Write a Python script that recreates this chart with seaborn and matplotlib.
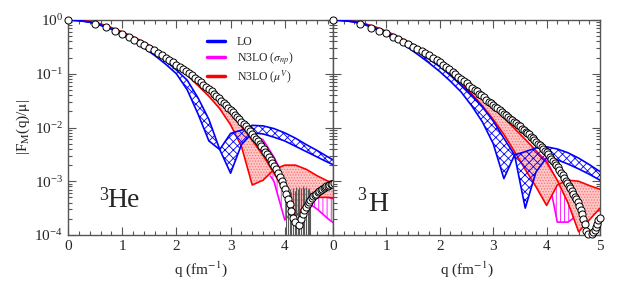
import numpy as np
import matplotlib
matplotlib.use("Agg")
import matplotlib.pyplot as plt
import seaborn as sns
from matplotlib.lines import Line2D
from matplotlib.ticker import MultipleLocator, LogLocator, NullFormatter, FixedLocator

nan = np.nan

# ---------------- data (log10 |F_M(q)/mu|) ----------------
q_exp = [0.00, 0.50, 0.71, 0.87, 1.00, 1.12, 1.22, 1.32, 1.41, 1.50,
         1.58, 1.66, 1.73, 1.80, 1.87, 1.94, 2.00, 2.06, 2.12, 2.18,
         2.24, 2.29, 2.35, 2.40, 2.45, 2.50, 2.55, 2.60, 2.65, 2.69,
         2.74, 2.78, 2.83, 2.87, 2.92, 2.96, 3.00, 3.04, 3.08, 3.12,
         3.16, 3.20, 3.24, 3.28, 3.32, 3.35, 3.39, 3.43, 3.46, 3.50,
         3.54, 3.57, 3.61, 3.64, 3.67, 3.71, 3.74, 3.77, 3.81, 3.84,
         3.87, 3.91, 3.94, 3.97, 4.00, 4.03, 4.06, 4.09, 4.12, 4.15,
         4.18, 4.21, 4.24, 4.27, 4.30, 4.33, 4.36, 4.39, 4.42, 4.44,
         4.47, 4.50, 4.53, 4.55, 4.58, 4.61, 4.64, 4.66, 4.69, 4.72,
         4.74, 4.77, 4.80, 4.82, 4.85, 4.87, 4.90, 4.92, 4.95, 4.97, 5.00]

he_exp = [0, -0.07, -0.13, -0.2, -0.26, -0.32, -0.37, -0.42, -0.47, -0.52,
          -0.56, -0.61, -0.65, -0.70, -0.74, -0.79, -0.83, -0.87, -0.91, -0.95,
          -0.99, -1.03, -1.08, -1.12, -1.16, -1.2, -1.24, -1.28, -1.33, -1.37,
          -1.41, -1.45, -1.5, -1.54, -1.59, -1.63, -1.67, -1.71, -1.76, -1.80,
          -1.85, -1.89, -1.94, -1.98, -2.03, -2.07, -2.12, -2.17, -2.21, -2.26,
          -2.31, -2.35, -2.40, -2.45, -2.50, -2.55, -2.61, -2.66, -2.72, -2.78,
          -2.85, -2.92, -2.99, -3.07, -3.15, -3.24, -3.33, -3.43, -3.55, -3.68,
          -3.75, nan, nan, -3.82, -3.70, -3.60, -3.53, -3.47, -3.42, -3.38,
          -3.34, -3.31, -3.28, -3.25, -3.23, -3.20, -3.18, -3.16, -3.14, -3.12,
          -3.11, -3.09, -3.08, -3.07, -3.06, -3.05, -3.04, nan, nan, nan, nan]

h_exp = [0, -0.07, -0.14, -0.2, -0.25, -0.31, -0.36, -0.41, -0.45, -0.5,
         -0.54, -0.58, -0.62, -0.66, -0.70, -0.74, -0.78, -0.83, -0.88, -0.92,
         -0.97, -1.01, -1.06, -1.10, -1.14, -1.18, -1.22, -1.26, -1.30, -1.33,
         -1.37, -1.40, -1.44, -1.48, -1.52, -1.55, -1.58, -1.61, -1.64, -1.68,
         -1.71, -1.74, -1.77, -1.80, -1.84, -1.86, -1.89, -1.92, -1.95, -1.98,
         -2.02, -2.04, -2.08, -2.11, -2.13, -2.17, -2.20, -2.23, -2.27, -2.30,
         -2.33, -2.37, -2.40, -2.43, -2.46, -2.50, -2.54, -2.58, -2.62, -2.66,
         -2.70, -2.74, -2.79, -2.84, -2.89, -2.94, -2.99, -3.04, -3.09, -3.13,
         -3.18, -3.23, -3.29, -3.33, -3.39, -3.46, -3.54, -3.61, -3.70, -3.80,
         -3.92, -3.98, nan, nan, -3.99, -3.95, -3.90, -3.85, -3.79, -3.73, -3.68]

# error bars of 3He data near the diffraction minimum (top of bar, log10)
he_err_q = [4.03, 4.06, 4.09, 4.12, 4.15, 4.18, 4.21, 4.24, 4.27, 4.30,
            4.33, 4.36, 4.39, 4.42, 4.44, 4.47]
he_err_top = [-3.15, -3.12, -3.15, -3.20, -3.12, -3.18, -3.10, -3.15, -3.10, -3.12,
              -3.08, -3.12, -3.10, -3.15, -3.12, -3.20]

q_band = [0.0, 0.2, 0.4, 0.6, 0.8, 1.0, 1.2, 1.4, 1.6, 1.8, 2.0, 2.2, 2.4,
          2.6, 2.8, 3.0, 3.2, 3.4, 3.6, 3.8, 4.0, 4.2, 4.4, 4.6, 4.8, 5.0]
q_mag = [3.2, 3.4, 3.6, 3.8, 4.0, 4.2, 4.4, 4.6, 4.8, 5.0]

# 3He
he_lo_up = [0, -0.01, -0.04, -0.09, -0.16, -0.25, -0.36, -0.48, -0.61, -0.76, -0.93, -1.12, -1.45,
            -1.85, -2.41, -2.11, -2.05, -1.96, -1.97, -2.02, -2.10, -2.20, -2.32, -2.43, -2.55, -2.67]
he_lo_dn = [0, -0.01, -0.04, -0.10, -0.17, -0.27, -0.39, -0.52, -0.66, -0.82, -1.00, -1.30, -1.75,
            -2.25, -2.41, -2.85, -2.32, -2.10, -2.12, -2.18, -2.25, -2.35, -2.45, -2.55, -2.65, -2.74]
he_mu_a = [0, -0.01, -0.03, -0.07, -0.14, -0.22, -0.31, -0.41, -0.53, -0.66, -0.80, -0.96, -1.13,
           -1.32, -1.52, -1.74, -1.98, -2.24, -2.52, -2.85, -3.20, -3.66, -3.40, -3.30, -3.30, -3.32]
he_mu_b = [0, -0.01, -0.03, -0.08, -0.15, -0.23, -0.33, -0.44, -0.56, -0.70, -0.86, -1.03, -1.22,
           -1.42, -1.65, -1.95, -2.35, -3.07, -2.98, -2.78, -2.70, -2.70, -2.78, -2.90, -3.00, -3.02]
he_np_up = [-1.95, -2.12, -2.23, -2.55, -2.95, -3.10, -3.20, -3.25, -3.30, -3.35]
he_np_dn = [-2.30, -2.50, -2.70, -3.00, -3.72, -3.50, -3.38, -3.52, -3.70, -3.85]

# 3H
h_lo_up = [0, -0.01, -0.03, -0.08, -0.15, -0.24, -0.34, -0.46, -0.60, -0.73, -0.87, -1.03, -1.21,
           -1.40, -1.62, -1.88, -2.20, -2.51, -2.45, -2.38, -2.36, -2.40, -2.47, -2.57, -2.69, -2.82]
h_lo_dn = [0, -0.01, -0.04, -0.09, -0.17, -0.27, -0.38, -0.51, -0.65, -0.80, -0.96, -1.14, -1.34,
           -1.60, -1.90, -2.30, -2.95, -2.51, -3.50, -2.83, -2.56, -2.60, -2.68, -2.77, -2.87, -2.98]
h_mu_a = [0, -0.01, -0.03, -0.07, -0.13, -0.21, -0.30, -0.40, -0.51, -0.64, -0.80, -0.94, -1.10,
          -1.27, -1.44, -1.63, -1.82, -2.02, -2.22, -2.43, -2.65, -2.98, -3.40, -3.94, -3.72, -3.50]
h_mu_b = [0, -0.01, -0.03, -0.08, -0.14, -0.22, -0.32, -0.43, -0.55, -0.68, -0.83, -0.99, -1.17,
          -1.38, -1.60, -1.85, -2.13, -2.45, -2.78, -3.10, -3.45, -3.07, -2.98, -3.00, -3.08, -3.15]
h_np_up = [-1.85, -2.05, -2.25, -2.45, -2.62, -3.00, -3.05, -3.10, -3.15, -3.20]
h_np_dn = [-2.00, -2.30, -2.50, -2.55, -2.75, -3.76, -3.76, -3.62, -3.55, -3.55]

legend_labels = ["LO", r"N3LO ($\sigma_{np}$)", r"N3LO ($\mu^{V}$)"]
BLUE, MAG, RED = "#0000ff", "#ff00ff", "#ff0000"

# ---------------- style ----------------
sns.set_style("ticks")
plt.rcParams["font.family"] = ["Liberation Serif", "DejaVu Serif"]
plt.rcParams["mathtext.fontset"] = "stix"
plt.rcParams["hatch.linewidth"] = 0.6

fig = plt.figure(figsize=(6.27, 2.96), dpi=100)
axL = fig.add_axes([68 / 627, 1 - 235 / 296, 265 / 627, 215 / 296])
axR = fig.add_axes([333 / 627, 1 - 235 / 296, 267 / 627, 215 / 296])


def p10(v):
    return np.power(10.0, np.asarray(v, dtype=float))


def draw_panel(ax, lo_up, lo_dn, mu_a, mu_b, np_up, np_dn, exp_vals):
    qb = np.asarray(q_band)
    # magenta band (N3LO sigma_np)
    ax.fill_between(q_mag, p10(np_dn), p10(np_up), facecolor="white", edgecolor=MAG,
                    hatch="||||", linewidth=0, zorder=1)
    for v in (np_up, np_dn):
        sns.lineplot(x=q_mag, y=p10(v), ax=ax, color=MAG, lw=1.2, zorder=2, estimator=None)
    # red band (N3LO mu^V)
    a, b = p10(mu_a), p10(mu_b)
    ax.fill_between(qb, np.minimum(a, b), np.maximum(a, b), facecolor="#ffc8c8",
                    edgecolor="#ff7070", hatch="......", linewidth=0, zorder=3)
    for v in (a, b):
        sns.lineplot(x=qb, y=v, ax=ax, color=RED, lw=1.2, zorder=4, estimator=None)
    # blue band (LO)
    ax.fill_between(qb, p10(lo_dn), p10(lo_up), facecolor="none", edgecolor=BLUE,
                    hatch="xxxx", linewidth=0, zorder=5)
    for v in (lo_up, lo_dn):
        sns.lineplot(x=qb, y=p10(v), ax=ax, color=BLUE, lw=1.2, zorder=6, estimator=None)
    # data points
    sns.scatterplot(x=q_exp, y=p10(exp_vals), ax=ax, marker="o", s=26, color="white",
                    edgecolor="black", linewidth=0.7, zorder=10, clip_on=False, legend=False)


draw_panel(axL, he_lo_up, he_lo_dn, he_mu_a, he_mu_b, he_np_up, he_np_dn, he_exp)
axL.vlines(he_err_q, 1e-6, p10(he_err_top), colors="#5a5a5a", lw=0.8, zorder=9)
draw_panel(axR, h_lo_up, h_lo_dn, h_mu_a, h_mu_b, h_np_up, h_np_dn, h_exp)

for ax, xmax in ((axL, 4.89), (axR, 5.0)):
    ax.set_yscale("log")
    ax.set_ylim(1e-4, 1.0)
    ax.set_xlim(0, xmax)
    ax.xaxis.set_major_locator(FixedLocator([0, 1, 2, 3, 4, 5]))
    ax.xaxis.set_minor_locator(MultipleLocator(0.2))
    ax.yaxis.set_major_locator(LogLocator(base=10, numticks=10))
    ax.yaxis.set_minor_locator(LogLocator(base=10, subs=np.arange(2, 10), numticks=20))
    ax.yaxis.set_minor_formatter(NullFormatter())
    ax.tick_params(which="both", direction="in", top=True, right=True, color="#555555",
                   width=0.8, labelsize=11)
    ax.tick_params(which="major", length=6)
    ax.tick_params(which="minor", length=3)
    for s in ax.spines.values():
        s.set_color("#555555")
        s.set_linewidth(1.0)
    ax.set_xlabel(r"q (fm$^{-1}$)", fontsize=11, labelpad=5)
    ax.set_ylabel("")

axR.tick_params(labelleft=False)
axL.set_ylabel(r"|F$_\mathrm{M}$(q)/$\mathrm{\mu}$|", fontsize=11, labelpad=2)

# nucleus labels
axL.text(0.118, 0.165, "3", transform=axL.transAxes, fontsize=13, va="baseline")
axL.text(0.147, 0.13, "He", transform=axL.transAxes, fontsize=20, va="baseline")
axR.text(0.092, 0.165, "3", transform=axR.transAxes, fontsize=13, va="baseline")
axR.text(0.131, 0.11, "H", transform=axR.transAxes, fontsize=20, va="baseline")

handles = [Line2D([], [], color=c, lw=2.5) for c in (BLUE, MAG, RED)]
axL.legend(handles, legend_labels, loc="upper left", bbox_to_anchor=(0.495, 0.965),
           frameon=False, fontsize=8.5, handlelength=1.5, handletextpad=1.0,
           labelspacing=0.15, borderpad=0.2)

fig.savefig("out.png", dpi=100)
